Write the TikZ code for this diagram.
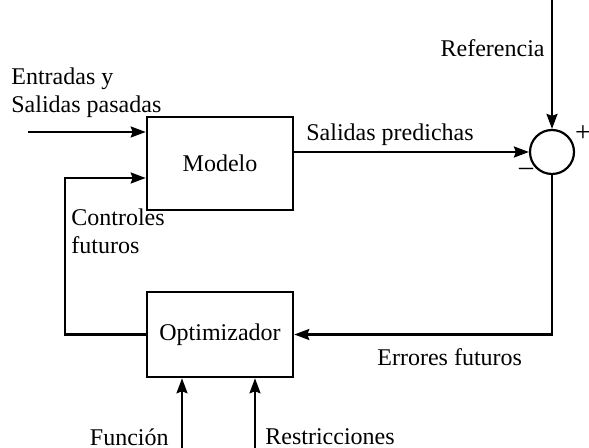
\documentclass[tikz,border=0pt]{standalone}
\usepackage{fontspec}
\setmainfont{Liberation Serif}
\usetikzlibrary{arrows.meta, positioning}

\begin{document}
\begin{tikzpicture}[x=0.5pt,y=-0.5pt,font=\fontsize{12}{14}\selectfont,
  blk/.style={draw,line width=1.3pt,minimum width=73pt,inner sep=0pt},
  sumc/.style={draw,circle,line width=1.1pt,minimum size=22pt,inner sep=0pt},
  sig/.style={line width=1.1pt,-{Stealth[length=7.5pt,width=5.5pt,inset=1pt]}},
  lbl/.style={inner sep=0pt},
  sgn/.style={inner sep=0pt,font=\fontsize{14}{16}\selectfont}]
\useasboundingbox (0,0) rectangle (589,448);
% blocks
\node[blk,minimum height=46.5pt] (modelo) at (220,163.5) {Modelo};
\node[blk,minimum height=42.5pt] (optim) at (220,334.5) {Optimizador};
\node[sumc] (sum) at (552,152) {};
% free ends
\coordinate (ref) at (552,0);
\coordinate (past) at (28,132);
\coordinate (fb) at (65,178);
\coordinate (fun) at (182,448);
\coordinate (res) at (255,448);
% connectors
\draw[sig] (ref) -- (sum);
\draw[sig] (sum.west -| modelo.east) -- (sum.west);
\draw[sig] (sum.south) |- (optim.east);
\draw[sig] (past) -- (past -| modelo.west);
\draw[sig] (optim.west) -| (fb) -- (fb -| modelo.west);
\draw[sig] (fun) -- (fun |- optim.south);
\draw[sig] (res) -- (res |- optim.south);
% labels
\node[lbl,anchor=east] (lref) at (545,48) {Referencia};
\node[sgn] (lplus) at (583,134) {+};
\node[sgn] (lminus) at (526,172) {–};
\node[lbl,anchor=west] (lpred) at (306,135) {Salidas predichas};
\node[lbl,anchor=west] (lerr) at (377,357) {Errores futuros};
\node[lbl,anchor=north west,align=left] (lpast) at (11,67) {Entradas y\\Salidas pasadas};
\node[lbl,anchor=north west,align=left] (lctl) at (71,208) {Controles\\futuros};
\node[lbl,anchor=east] (lfun) at (169,437) {Función};
\node[lbl,anchor=west] (lres) at (265,437) {Restricciones};
\end{tikzpicture}
\end{document}
